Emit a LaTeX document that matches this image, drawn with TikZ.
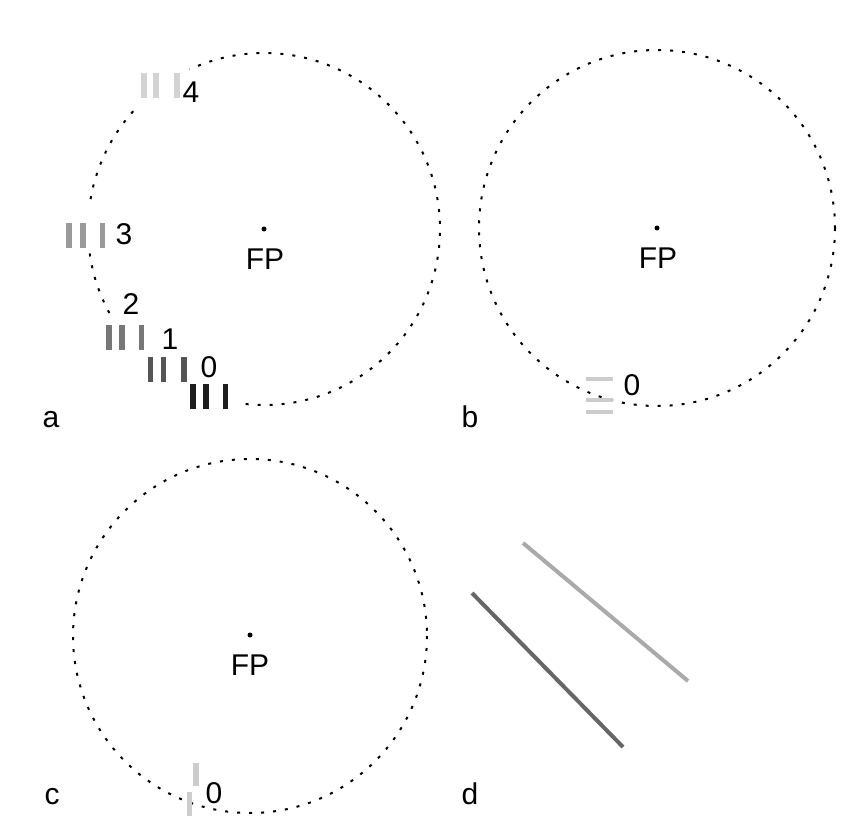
\documentclass[tikz,border=0pt]{standalone}
\usepackage{fontspec}
\setmainfont{Liberation Sans}
\definecolor{gA}{HTML}{1E1E1E}
\definecolor{gB}{HTML}{555555}
\definecolor{gC}{HTML}{777777}
\definecolor{gD}{HTML}{9A9A9A}
\definecolor{gE}{HTML}{D3D3D3}
\definecolor{gF}{HTML}{CCCCCC}
\definecolor{lnDark}{HTML}{666666}
\definecolor{lnLight}{HTML}{AAAAAA}
\begin{document}
\begin{tikzpicture}[x=1pt,y=-1pt,
  lbl/.style={font=\fontsize{30}{36}\selectfont, inner sep=0pt},
  dotc/.style={line width=2pt, dash pattern=on 3pt off 9pt},
  vb/.style={rectangle, inner sep=0pt, minimum width=5.5pt, minimum height=25pt, fill=#1},
  hb/.style={rectangle, inner sep=0pt, minimum width=27pt, minimum height=4.5pt, fill=#1},
  fpdot/.style={circle, fill=black, inner sep=0pt, minimum size=5pt}]
\useasboundingbox (0,0) rectangle (846,840);

% ---------- panel a ----------
\coordinate (ca) at (264,229);
\draw[dotc] (ca) ++(96:176) arc[start angle=96, end angle=-115, radius=176];
\draw[dotc] (ca) ++(-138:176) arc[start angle=-138, end angle=-172, radius=176];
\draw[dotc] (ca) ++(-188:176) arc[start angle=-188, end angle=-209, radius=176];
\node[fpdot] (fpa) at (ca) {};
\node[lbl] (FPa) at (265,259) {FP};

% group 0
\node[vb=gA] (a01) at (193,396) {};
\node[vb=gA] (a02) at (206,396) {};
\node[vb=gA] (a03) at (225.5,396) {};
\node[lbl] (n0a) at (209,367) {0};
% group 1
\node[vb=gB] (a11) at (150.5,369.5) {};
\node[vb=gB] (a12) at (163.5,369.5) {};
\node[vb=gB] (a13) at (184,369.5) {};
\node[lbl] (n1a) at (170,339) {1};
% group 2
\node[vb=gC] (a21) at (109,337) {};
\node[vb=gC] (a22) at (122,337) {};
\node[vb=gC] (a23) at (141.5,337) {};
\node[lbl] (n2a) at (131,304) {2};
% group 3
\node[vb=gD] (a31) at (69,235.5) {};
\node[vb=gD] (a32) at (83,235.5) {};
\node[vb=gD] (a33) at (102.5,235.5) {};
\node[lbl] (n3a) at (124,234) {3};
% group 4
\node[vb=gE] (a41) at (144,85.5) {};
\node[vb=gE] (a42) at (156,85.5) {};
\node[vb=gE] (a43) at (177,85.5) {};
\node[lbl] (n4a) at (191,92) {4};

\node[lbl, anchor=base] (la) at (51,427) {a};

% ---------- panel b ----------
\coordinate (cb) at (657,228);
\draw[dotc] (cb) circle[radius=178];
\node[fpdot] (fpb) at (cb) {};
\node[lbl] (FPb) at (658,258) {FP};
\node[hb=gF] (b1) at (599.5,379) {};
\node[hb=gF] (b2) at (599.5,400) {};
\node[hb=gF] (b3) at (599.5,412) {};
\node[lbl] (n0b) at (632,385) {0};
\node[lbl, anchor=base] (lb) at (470,427) {b};

% ---------- panel c ----------
\coordinate (cc) at (250,636);
\draw[dotc] (cc) circle[radius=177];
\node[fpdot] (fpc) at (250,635) {};
\node[lbl] (FPc) at (250,665) {FP};
\node[vb=gF, minimum height=23pt] (c1) at (196,774.5) {};
\node[vb=gF, minimum height=24pt] (c2) at (189.5,804) {};
\node[lbl] (n0c) at (214,793) {0};
\node[lbl, anchor=base] (lc) at (52,804) {c};

% ---------- panel d ----------
\coordinate (d1s) at (472,593);
\coordinate (d1e) at (623,747);
\coordinate (d2s) at (523,543);
\coordinate (d2e) at (688,681);
\draw[lnDark, line width=4pt] (d1s) -- (d1e);
\draw[lnLight, line width=4pt] (d2s) -- (d2e);
\node[lbl, anchor=base] (ld) at (470,804) {d};
\end{tikzpicture}
\end{document}
